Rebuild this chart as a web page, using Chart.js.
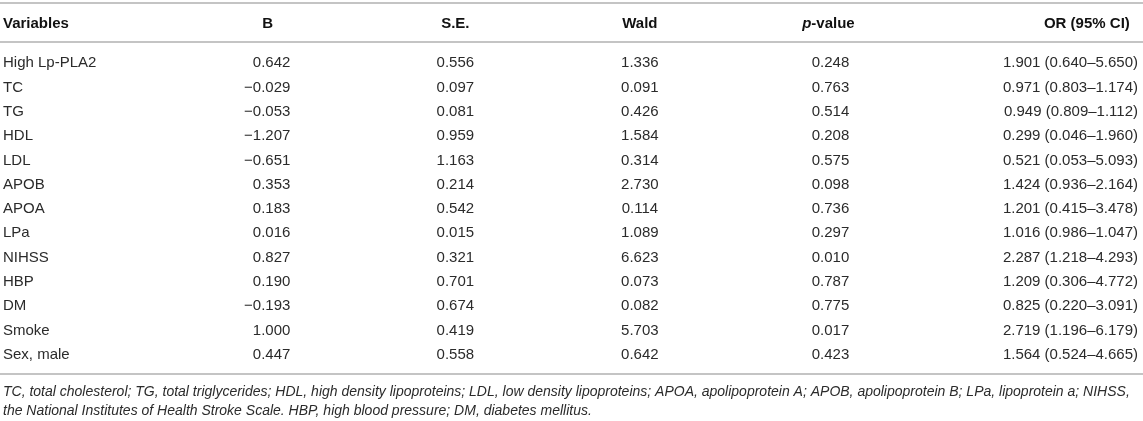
<!DOCTYPE html>
<html>
<head>
<meta charset="utf-8">
<script src="https://cdn.jsdelivr.net/npm/chart.js@4/dist/chart.umd.min.js"></script>
<style>
  html, body { margin: 0; padding: 0; background: #fff; }
  #wrap { width: 1143px; height: 421px; position: relative; }
</style>
</head>
<body>
<div id="wrap"><canvas id="tbl"></canvas></div>
<script>
// rows of the table
const variables = ['High Lp-PLA2', 'TC', 'TG', 'HDL', 'LDL', 'APOB', 'APOA', 'LPa', 'NIHSS', 'HBP', 'DM', 'Smoke', 'Sex, male'];
const bCoef   = [0.642, -0.029, -0.053, -1.207, -0.651, 0.353, 0.183, 0.016, 0.827, 0.190, -0.193, 1.000, 0.447];
const seVals  = [0.556, 0.097, 0.081, 0.959, 1.163, 0.214, 0.542, 0.015, 0.321, 0.701, 0.674, 0.419, 0.558];
const waldVals = [1.336, 0.091, 0.426, 1.584, 0.314, 2.730, 0.114, 1.089, 6.623, 0.073, 0.082, 5.703, 0.642];
const pVals   = [0.248, 0.763, 0.514, 0.208, 0.575, 0.098, 0.736, 0.297, 0.010, 0.787, 0.775, 0.017, 0.423];
const orVals  = [1.901, 0.971, 0.949, 0.299, 0.521, 1.424, 1.201, 1.016, 2.287, 1.209, 0.825, 2.719, 1.564];
const ciLow   = [0.640, 0.803, 0.809, 0.046, 0.053, 0.936, 0.415, 0.986, 1.218, 0.306, 0.220, 1.196, 0.524];
const ciHigh  = [5.650, 1.174, 1.112, 1.960, 5.093, 2.164, 3.478, 1.047, 4.293, 4.772, 3.091, 6.179, 4.665];

const headers = ['B', 'S.E.', 'Wald', 'p-value', 'OR (95% CI)'];
const footnote = [
  'TC, total cholesterol; TG, total triglycerides; HDL, high density lipoproteins; LDL, low density lipoproteins; APOA, apolipoprotein A; APOB, apolipoprotein B; LPa, lipoprotein a; NIHSS,',
  'the National Institutes of Health Stroke Scale. HBP, high blood pressure; DM, diabetes mellitus.'
];

const FONT = '"Liberation Sans", Arial, sans-serif';
const TEXT = '#2b2b2b';
const RULE = '#c4c4c4';

const fmt = v => (v < 0 ? '\u2212' : '') + Math.abs(v).toFixed(3);
const fmtOr = (o, i) => o.toFixed(3) + ' (' + ciLow[i].toFixed(3) + '\u2013' + ciHigh[i].toFixed(3) + ')';

// column anchors on the x scale (0..100) and text alignment
const cols = [
  { values: bCoef.map(fmt),       at: 17.3, align: 'right',  head: 15.1, headAlign: 'center' },
  { values: seVals.map(fmt),      at: 33.4, align: 'center', head: 33.4, headAlign: 'center' },
  { values: waldVals.map(fmt),    at: 51.4, align: 'center', head: 51.4, headAlign: 'center' },
  { values: pVals.map(fmt),       at: 70.0, align: 'center', head: 69.8, headAlign: 'center' },
  { values: orVals.map(fmtOr),    at: 100,  align: 'right',  head: 99.2, headAlign: 'right' }
];

const tablePlugin = {
  id: 'tableText',
  afterDraw(chart) {
    const { ctx, chartArea, scales } = chart;
    const x = scales.x;
    ctx.save();
    // rules
    ctx.strokeStyle = RULE;
    ctx.lineWidth = 2;
    [3, chartArea.top - 8, chartArea.bottom + 8].forEach(y => {
      ctx.beginPath();
      ctx.moveTo(0, y);
      ctx.lineTo(chart.width, y);
      ctx.stroke();
    });
    // header row
    const hy = (3 + chartArea.top - 8) / 2 + 1;
    ctx.fillStyle = '#111';
    ctx.textBaseline = 'middle';
    ctx.font = 'bold 15px ' + FONT;
    ctx.textAlign = 'left';
    ctx.fillText('Variables', 3, hy);
    cols.forEach((c, k) => {
      const px = x.getPixelForValue(c.head);
      if (headers[k] === 'p-value') {
        ctx.font = 'italic bold 15px ' + FONT;
        const w1 = ctx.measureText('p').width;
        ctx.font = 'bold 15px ' + FONT;
        const w2 = ctx.measureText('-value').width;
        const left = px - (w1 + w2) / 2;
        ctx.textAlign = 'left';
        ctx.font = 'italic bold 15px ' + FONT;
        ctx.fillText('p', left, hy);
        ctx.font = 'bold 15px ' + FONT;
        ctx.fillText('-value', left + w1, hy);
      } else {
        ctx.font = 'bold 15px ' + FONT;
        ctx.textAlign = c.headAlign;
        ctx.fillText(headers[k], px, hy);
      }
    });
    // cells, placed on the points the scales computed
    ctx.font = '15px ' + FONT;
    ctx.fillStyle = TEXT;
    chart.data.datasets.forEach((ds, k) => {
      const meta = chart.getDatasetMeta(k);
      ctx.textAlign = cols[k].align;
      meta.data.forEach((pt, i) => {
        ctx.fillText(cols[k].values[i], pt.x, pt.y + 1);
      });
    });
    // footnote
    ctx.font = 'italic 14px ' + FONT;
    ctx.textAlign = 'left';
    footnote.forEach((line, i) => ctx.fillText(line, 3, chartArea.bottom + 26 + i * 19));
    ctx.restore();
  }
};

new Chart(document.getElementById('tbl'), {
  type: 'scatter',
  data: {
    datasets: cols.map(c => ({
      data: variables.map(v => ({ x: c.at, y: v })),
      pointRadius: 0,
      pointHoverRadius: 0
    }))
  },
  options: {
    responsive: true,
    maintainAspectRatio: false,
    animation: false,
    events: [],
    layout: { padding: { left: 3, right: 5, top: 50, bottom: 55 } },
    plugins: { legend: { display: false }, tooltip: { enabled: false } },
    scales: {
      x: { type: 'linear', min: 0, max: 100, display: false },
      y: {
        type: 'category',
        labels: variables,
        offset: true,
        grid: { display: false },
        border: { display: false },
        afterFit: s => { s.width = 110; },
        ticks: {
          crossAlign: 'far',
          padding: 0,
          labelOffset: 1,
          color: TEXT,
          font: { family: FONT, size: 15 }
        }
      }
    }
  },
  plugins: [tablePlugin]
});
</script>
</body>
</html>
